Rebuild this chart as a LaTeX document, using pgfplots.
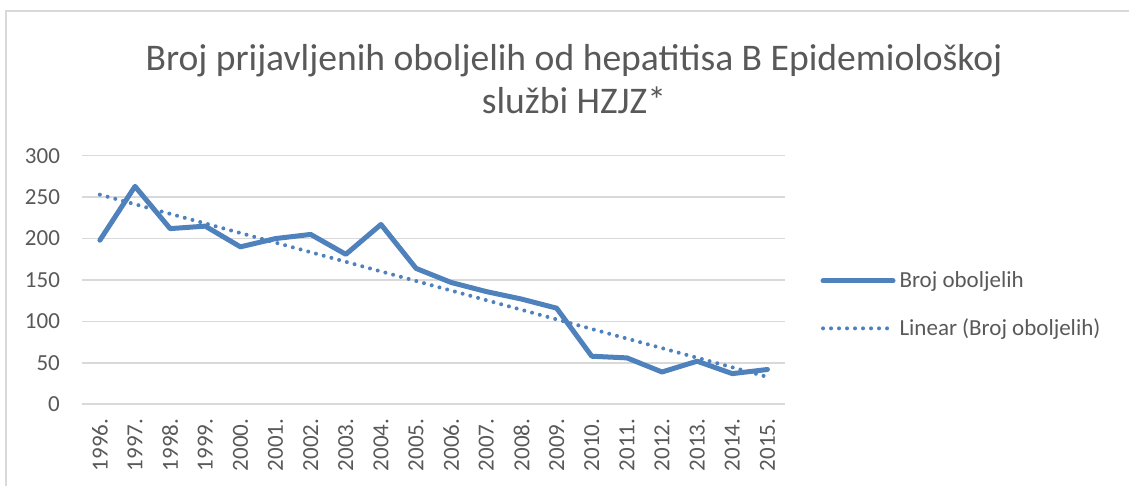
\documentclass[border=0pt]{standalone}
\usepackage{pgfplots}
\pgfplotsset{compat=1.18}
\usepackage{fontspec}
\setmainfont{Carlito}
\definecolor{xblue}{HTML}{4F81BD}
\definecolor{txt}{HTML}{595959}
\definecolor{gridc}{HTML}{D9D9D9}
\begin{document}
\begin{tikzpicture}
\path[use as bounding box] (0,0) rectangle (564.5pt,243pt);
\draw[gridc, line width=0.8pt] (3pt,0pt) -- (3pt,237.5pt) -- (564.5pt,237.5pt);
\node[text=txt, font=\fontsize{18.8}{21.5}\selectfont, align=center] at (287pt,203.5pt)
  {Broj prijavljenih oboljelih od hepatitisa B Epidemiološkoj\\službi HZJZ*};
\begin{axis}[
  at={(41.15pt,40.85pt)}, anchor=south west,
  scale only axis, width=351.35pt, height=124.3pt,
  xmin=-0.5, xmax=19.5, ymin=0, ymax=300,
  ytick={0,50,...,300},
  xtick={0,...,19},
  xticklabels={1996.,1997.,1998.,1999.,2000.,2001.,2002.,2003.,2004.,2005.,2006.,2007.,2008.,2009.,2010.,2011.,2012.,2013.,2014.,2015.},
  axis line style={draw=none},
  major tick length=0pt,
  ymajorgrids, grid style={gridc, line width=0.8pt},
  tick label style={text=txt, font=\fontsize{11.5}{13}\selectfont},
  /pgf/number format/assume math mode=true,
  xticklabel style={rotate=90, anchor=east, inner sep=0pt},
  yticklabel style={anchor=east, inner sep=0pt},
  xticklabel shift=7pt,
  yticklabel shift=11pt,
  clip=false,
  legend style={draw=none, fill=none, at={(1.05,0.4)}, anchor=west,
    font=\fontsize{11.5}{13}\selectfont, text=txt, inner sep=0pt, row sep=10pt},
  legend cell align=left,
  legend image code/.code={\draw[#1] (0pt,0pt) -- (35pt,0pt);},
]
\addplot[xblue, line width=2.5pt, line join=round, line cap=round] coordinates {
(0,198) (1,263) (2,212) (3,215) (4,190) (5,200) (6,205) (7,181) (8,217) (9,164)
(10,147) (11,136) (12,127) (13,116) (14,58) (15,56) (16,39) (17,52) (18,37) (19,42)};
\addlegendentry{Broj oboljelih}
\addplot[xblue, line width=2pt, dash pattern=on 0pt off 4pt, line cap=round] coordinates {
(0,253) (19,33)};
\addlegendentry{Linear (Broj oboljelih)}
\end{axis}
\end{tikzpicture}
\end{document}
